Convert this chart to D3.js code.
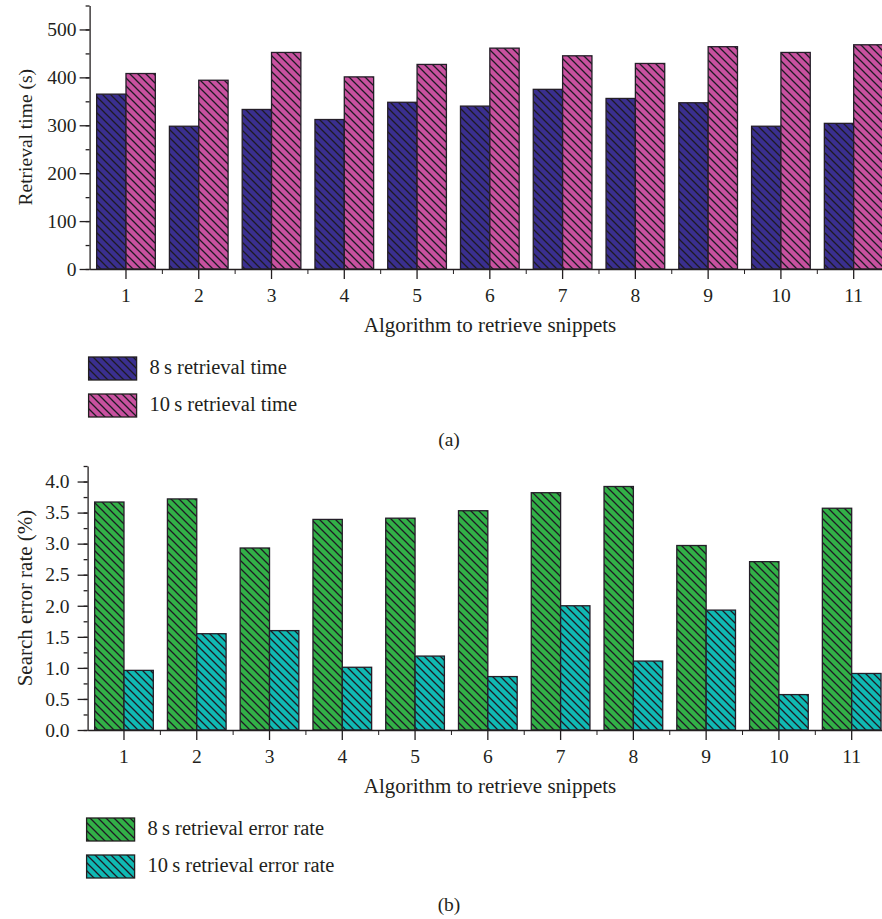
<!DOCTYPE html>
<html>
<head>
<meta charset="utf-8">
<script src="https://cdn.jsdelivr.net/npm/d3@7"></script>
<style>
  body { margin: 0; background: #fff; }
  svg { display: block; }
  text { font-family: "Liberation Serif", "Times New Roman", serif; fill: #231f20; }
</style>
</head>
<body>
<script>
// Data
const categories = ["1", "2", "3", "4", "5", "6", "7", "8", "9", "10", "11"];
const time8 = [365, 298, 333, 312, 348, 340, 375, 356, 347, 298, 304];
const time10 = [408, 394, 452, 401, 427, 461, 445, 429, 464, 452, 468];
const err8 = [3.67, 3.72, 2.93, 3.39, 3.41, 3.53, 3.82, 3.92, 2.97, 2.71, 3.57];
const err10 = [0.96, 1.55, 1.60, 1.01, 1.19, 0.86, 2.00, 1.11, 1.93, 0.57, 0.91];
const timeTicks = [0, 100, 200, 300, 400, 500];
const errTicks = [0, 0.5, 1.0, 1.5, 2.0, 2.5, 3.0, 3.5, 4.0];

const W = 882, H = 919;
const step = 72.77;

const svg = d3.select("body")
    .append("svg")
    .attr("width", W)
    .attr("height", H);

const defs = svg.append("defs");

// hatched fills, lines running top-left to bottom-right
function hatch(id, color) {
    const p = defs.append("pattern")
        .attr("id", id)
        .attr("patternUnits", "userSpaceOnUse")
        .attr("width", 8)
        .attr("height", 8);
    p.append("rect").attr("width", 8).attr("height", 8).attr("fill", color);
    p.append("path")
        .attr("d", "M0,0 L8,8 M-2,6 L2,10 M6,-2 L10,2")
        .attr("stroke", "#1e1a24")
        .attr("stroke-width", 1.3);
}
hatch("h-blue", "#3a2f8f");
hatch("h-pink", "#c8519f");
hatch("h-green", "#32b047");
hatch("h-teal", "#10b9b3");

function panel(cfg) {
    const g = svg.append("g");

    const x = d3.scaleBand()
        .domain(categories)
        .range([cfg.left, cfg.left + step * categories.length])
        .padding(0);

    const xs = d3.scaleBand()
        .domain([0, 1])
        .range([0, x.bandwidth()])
        .paddingInner(0)
        .paddingOuter(0.24);

    const y = d3.scaleLinear()
        .domain([0, cfg.max])
        .range([cfg.bottom, cfg.top]);

    // bars
    const series = [cfg.a, cfg.b];
    series.forEach((vals, si) => {
        g.selectAll(".bar" + si)
            .data(vals)
            .enter()
            .append("rect")
            .attr("x", (d, i) => x(categories[i]) + xs(si))
            .attr("y", d => y(d))
            .attr("width", xs.bandwidth())
            .attr("height", d => cfg.bottom - y(d))
            .attr("fill", `url(#${cfg.fills[si]})`)
            .attr("stroke", "#241e28")
            .attr("stroke-width", 1.3);
    });

    // y axis: major + minor ticks
    const yMinor = d3.range(0, cfg.max + 1e-9, cfg.minor);
    g.append("g")
        .attr("transform", `translate(${cfg.left},0)`)
        .call(d3.axisLeft(y).tickValues(yMinor).tickSize(4).tickFormat(""))
        .call(a => a.select(".domain").remove());
    const yAxis = g.append("g")
        .attr("transform", `translate(${cfg.left},0)`)
        .call(d3.axisLeft(y).tickValues(cfg.ticks).tickSize(10).tickSizeOuter(0).tickPadding(cfg.pad).tickFormat(cfg.fmt));
    yAxis.selectAll("text").attr("font-size", "19.5px").style("font-family", "Liberation Serif");

    // x axis
    const xAxis = g.append("g")
        .attr("transform", `translate(0,${cfg.bottom})`)
        .call(d3.axisBottom(x).tickSize(10).tickSizeOuter(0).tickPadding(9));
    xAxis.selectAll("text").attr("font-size", "19.5px").style("font-family", "Liberation Serif");
    g.append("g")
        .selectAll("line")
        .data(categories.slice(1))
        .enter()
        .append("line")
        .attr("x1", d => x(d)).attr("x2", d => x(d))
        .attr("y1", cfg.bottom).attr("y2", cfg.bottom + 5)
        .attr("stroke", "#231f20");

    g.selectAll(".domain, .tick line").attr("stroke", "#231f20").attr("stroke-width", 1.3);

    // axis titles
    g.append("text")
        .attr("x", 490)
        .attr("y", cfg.bottom + 63)
        .attr("text-anchor", "middle")
        .attr("font-size", "21px")
        .text("Algorithm to retrieve snippets");
    g.append("text")
        .attr("transform", `translate(32,${(cfg.top + cfg.bottom) / 2}) rotate(-90)`)
        .attr("text-anchor", "middle")
        .attr("font-size", cfg.yTitleSize)
        .text(cfg.yTitle);

    // legend
    cfg.labels.forEach((lab, i) => {
        const ly = cfg.legendTop + i * 37;
        g.append("rect")
            .attr("x", cfg.left - 1).attr("y", ly)
            .attr("width", 48).attr("height", 23)
            .attr("fill", `url(#${cfg.fills[i]})`)
            .attr("stroke", "#231f20").attr("stroke-width", 1.3);
        g.append("text")
            .attr("x", cfg.left + 60).attr("y", ly + 17)
            .attr("font-size", "20.5px")
            .text(lab);
    });

    g.append("text")
        .attr("x", 449).attr("y", cfg.caption)
        .attr("text-anchor", "middle")
        .attr("font-size", "19.5px")
        .text(cfg.tag);
}

panel({
    left: 89.6, top: 5.5, bottom: 269, max: 550, minor: 50, pad: 3,
    ticks: timeTicks, fmt: d3.format("d"),
    a: time8, b: time10, fills: ["h-blue", "h-pink"],
    yTitle: "Retrieval time (s)", yTitleSize: "19.5px",
    labels: ["8\u2009s retrieval time", "10\u2009s retrieval time"],
    legendTop: 357, caption: 446, tag: "(a)"
});

panel({
    left: 87.6, top: 466, bottom: 730, max: 4.25, minor: 0.25, pad: 8,
    ticks: errTicks, fmt: d3.format(".1f"),
    a: err8, b: err10, fills: ["h-green", "h-teal"],
    yTitle: "Search error rate (%)", yTitleSize: "21px",
    labels: ["8\u2009s retrieval error rate", "10\u2009s retrieval error rate"],
    legendTop: 818, caption: 911, tag: "(b)"
});
</script>
</body>
</html>
